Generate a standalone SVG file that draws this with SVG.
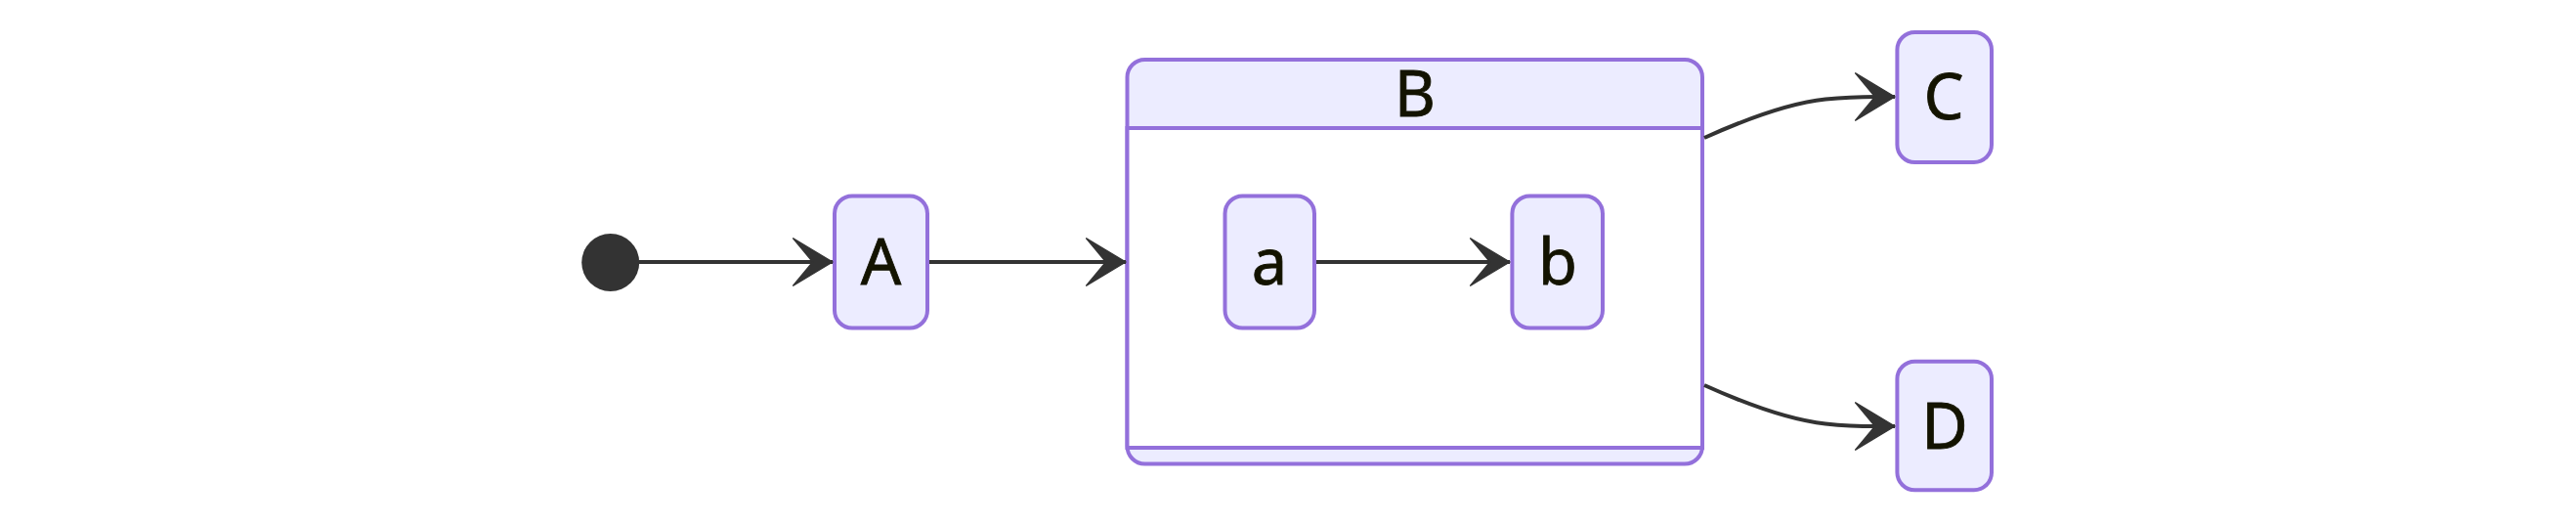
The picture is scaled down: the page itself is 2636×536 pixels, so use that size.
<svg xmlns="http://www.w3.org/2000/svg" width="2636" height="536" viewBox="0 0 2636 536">
<style>
.node{fill:#ECECFF;stroke:#9370DB;stroke-width:4}
.inner{fill:#FFFFFF;stroke:#9370DB;stroke-width:4}
.lbl{font-family:"Noto Sans","Open Sans","DejaVu Sans",sans-serif;font-size:65px;fill:#131300;stroke:#131300;stroke-width:0.8;text-anchor:middle}
.edge{fill:none;stroke:#333333;stroke-width:4}
</style>
<defs>
<marker id="barb" viewBox="0 0 20 14" refX="19" refY="7" markerWidth="82" markerHeight="57" markerUnits="userSpaceOnUse" orient="auto">
<path d="M19,7 L9,13 L14,7 L9,1 Z" fill="#333333" stroke="#333333" stroke-width="0.3"/>
</marker>
</defs>
<rect width="2636" height="536" fill="#FFFFFF"/>
<g id="start">
<circle cx="624.7" cy="268.5" r="29.5" fill="#333333"/>
</g>
<g id="A">
<rect class="node" x="854" y="200.5" width="95" height="135" rx="18"/>
<text class="lbl" x="901.5" y="291">A</text>
</g>
<g id="B">
<rect class="node" x="1153.5" y="61" width="588.5" height="413.5" rx="18"/>
<rect class="inner" x="1153.5" y="131" width="588.5" height="327"/>
<text class="lbl" x="1448" y="119">B</text>
<g id="a">
<rect class="node" x="1253.5" y="200.5" width="91.5" height="135" rx="18"/>
<text class="lbl" x="1299" y="291">a</text>
</g>
<g id="b">
<rect class="node" x="1547.4" y="200.5" width="92.6" height="135" rx="18"/>
<text class="lbl" x="1594" y="291">b</text>
</g>
</g>
<g id="C">
<rect class="node" x="1941.4" y="33" width="96.6" height="133" rx="18"/>
<text class="lbl" x="1989" y="122">C</text>
</g>
<g id="D">
<rect class="node" x="1941.4" y="369.7" width="96.6" height="131.6" rx="18"/>
<text class="lbl" x="1990" y="458.5">D</text>
</g>
<g id="connectors">
<path class="edge" d="M654,268 L852,268" marker-end="url(#barb)"/>
<path class="edge" d="M951,268 L1152,268" marker-end="url(#barb)"/>
<path class="edge" d="M1347,268 L1545,268" marker-end="url(#barb)"/>
<path class="edge" d="M1744,141 C1795,118 1835,105 1868,101.5 S1912,99 1939,99" marker-end="url(#barb)"/>
<path class="edge" d="M1744,394 C1795,417 1835,430 1868,433.5 S1912,436 1939,436" marker-end="url(#barb)"/>
</g>
</svg>
